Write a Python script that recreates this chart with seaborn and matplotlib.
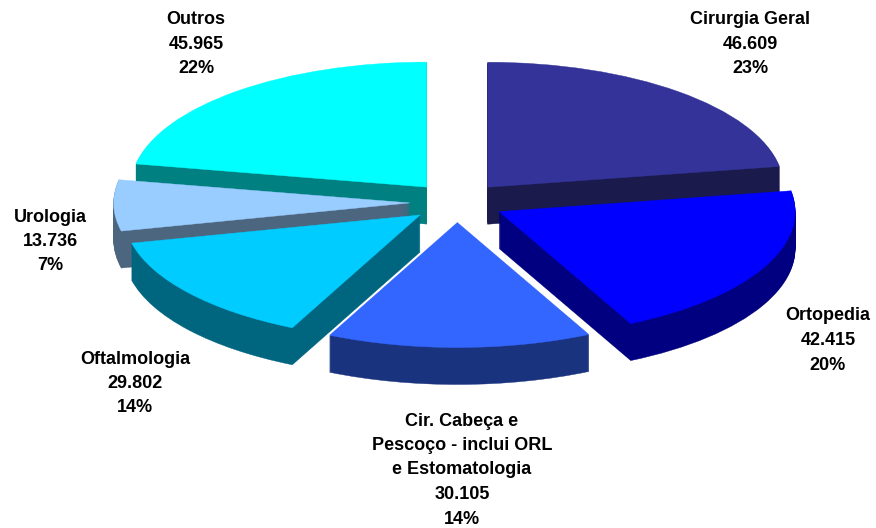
import matplotlib
matplotlib.use("Agg")
import matplotlib.pyplot as plt
import seaborn as sns

# Values
categories = ['Cirurgia Geral', 'Ortopedia', 'Cir. Cabeça e\nPescoço - inclui ORL\ne Estomatologia',
              'Oftalmologia', 'Urologia', 'Outros']
values = [46609, 42415, 30105, 29802, 13736, 45965]
value_labels = ['46.609', '42.415', '30.105', '29.802', '13.736', '45.965']
percent_labels = ['23%', '20%', '14%', '14%', '7%', '22%']
top_colors = ['#333399', '#0000FF', '#3366FF', '#00CCFF', '#99CCFF', '#00FFFF']
wall_colors = ['#1A1A4D', '#000080', '#1A337F', '#006680', '#4D6680', '#008080']

# Paint order, back slices first
paint_order = [5, 0, 4, 1, 3, 2]

# Pie geometry in pixels of the 876x528 image
W, H = 876, 528
CX, CY = 457, 202.5
RX, RY = 296, 125
DEPTH = 37
EXPLODE = 0.16

sns.set_theme(style="white")
plt.rcParams['font.family'] = ['Liberation Sans', 'DejaVu Sans']

fig = plt.figure(figsize=(W / 100, H / 100), dpi=100)
ax = fig.add_axes([0, 0, 1, 1])

explode = [EXPLODE] * len(values)
wall_pal = sns.color_palette(wall_colors)
top_pal = sns.color_palette(top_colors)


def draw_layer(depth, colors, level):
    wedges, _ = ax.pie(values, explode=explode, colors=colors, radius=1,
                       center=(0, -depth / RY), startangle=90, counterclock=False,
                       wedgeprops={'linewidth': 0.3})
    for i, w in enumerate(wedges):
        w.set_edgecolor(colors[i])
        w.set_zorder(paint_order.index(i) + level)


# Stack dark layers to build the walls, then the top face
for d in range(DEPTH, 0, -1):
    draw_layer(d, wall_pal, (DEPTH - d) / (DEPTH + 1))
draw_layer(0, top_pal, 0.99)

# Ellipse shape: one data unit is RX wide and RY tall
ax.set_aspect('auto')
ax.set_xlim(-CX / RX, (W - CX) / RX)
ax.set_ylim((CY - H) / RY, CY / RY)
ax.axis('off')

# Label centre x and first line y, in image pixels
label_pos = [(750, 20), (828, 316), (462, 421), (135, 359), (50, 217), (196, 20)]
LINE = 24.5
for cat, val, pct, (x, y) in zip(categories, value_labels, percent_labels, label_pos):
    lines = cat.split('\n') + [val, pct]
    for n, line in enumerate(lines):
        fig.text(x / W, 1 - (y + n * LINE) / H, line, ha='center', va='center',
                 fontsize=13, fontweight='bold', color='black')

fig.savefig('out.png', dpi=100, facecolor='white')
